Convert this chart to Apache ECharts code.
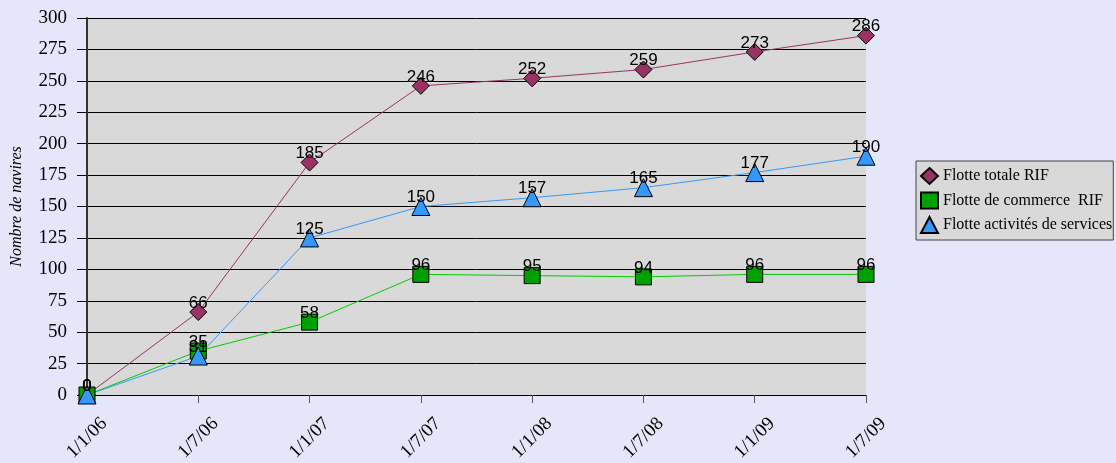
<!DOCTYPE html>
<html>
<head>
<meta charset="utf-8">
<script src="https://cdn.jsdelivr.net/npm/echarts@6/dist/echarts.min.js"></script>
<style>
  html, body { margin: 0; padding: 0; background: #E6E6FA; }
  #chart { width: 1116px; height: 463px; }
</style>
</head>
<body>
<div id="chart"></div>
<script>
const dates = ['1/1/06', '1/7/06', '1/1/07', '1/7/07', '1/1/08', '1/7/08', '1/1/09', '1/7/09'];
const flotteTotale = [0, 66, 185, 246, 252, 259, 273, 286];
const flotteCommerce = [0, 35, 58, 96, 95, 94, 96, 96];
const flotteServices = [0, 31, 125, 150, 157, 165, 177, 190];
const yTicks = { min: 0, max: 300, step: 25 };

const chart = echarts.init(document.getElementById('chart'));

const pointLabel = {
  show: true,
  position: 'inside',
  offset: [0, -9],
  color: '#000',
  fontFamily: 'Liberation Sans, Arial, sans-serif',
  fontSize: 17
};

function makeSeries(name, data, symbol, size, lineColor, fillColor) {
  return {
    name: name,
    type: 'line',
    data: data,
    symbol: symbol,
    symbolSize: size,
    showAllSymbol: true,
    lineStyle: { color: lineColor, width: 1 },
    itemStyle: { color: fillColor, borderColor: '#000', borderWidth: 1 },
    label: pointLabel,
    emphasis: { disabled: true }
  };
}

chart.setOption({
  animation: false,
  backgroundColor: '#E6E6FA',
  grid: {
    left: 87, right: 250, top: 18, bottom: 68,
    outerBoundsMode: 'none',
    containLabel: false,
    show: true, backgroundColor: '#D9D9D9', borderWidth: 0
  },
  legend: {
    orient: 'vertical',
    left: 916, top: 161,
    padding: [6, 1, 6, 4],
    itemGap: 6.5,
    itemWidth: 17, itemHeight: 16,
    backgroundColor: '#D9D9D9',
    borderColor: '#444',
    borderWidth: 1,
    borderRadius: 0,
    textStyle: { fontFamily: 'Liberation Serif, serif', fontSize: 16, color: '#000' },
    data: [
      { name: 'Flotte totale RIF', icon: 'diamond' },
      { name: 'Flotte de commerce  RIF', icon: 'rect' },
      { name: 'Flotte activités de services', icon: 'triangle' }
    ]
  },
  xAxis: {
    type: 'category',
    data: dates,
    boundaryGap: false,
    axisLine: { lineStyle: { color: '#000', width: 1 } },
    axisTick: { show: true, length: 8, inside: false, lineStyle: { color: '#555' }, alignWithLabel: true },
    axisLabel: {
      rotate: 45, color: '#000', fontFamily: 'Liberation Serif, serif', fontSize: 19, margin: 43,
      align: 'center', verticalAlign: 'middle',
      interval: 0
    },
    splitLine: { show: false }
  },
  yAxis: {
    type: 'value',
    min: yTicks.min, max: yTicks.max, interval: yTicks.step,
    name: 'Nombre de navires',
    nameLocation: 'middle',
    nameGap: 62,
    nameTextStyle: { fontFamily: 'Liberation Serif, serif', fontStyle: 'italic', fontSize: 16, color: '#000' },
    axisLine: { show: true, lineStyle: { color: '#333', width: 2 } },
    axisTick: { show: true, length: 10, lineStyle: { color: '#000' } },
    axisLabel: { color: '#000', fontFamily: 'Liberation Serif, serif', fontSize: 19, margin: 20 },
    splitLine: { show: true, lineStyle: { color: '#000', width: 1 } }
  },
  series: [
    makeSeries('Flotte totale RIF', flotteTotale, 'diamond', 17, '#993366', '#993366'),
    makeSeries('Flotte de commerce  RIF', flotteCommerce, 'rect', 16, '#00CC00', '#00A000'),
    makeSeries('Flotte activités de services', flotteServices, 'triangle', 18, '#3399FF', '#3399FF')
  ]
});
</script>
</body>
</html>
